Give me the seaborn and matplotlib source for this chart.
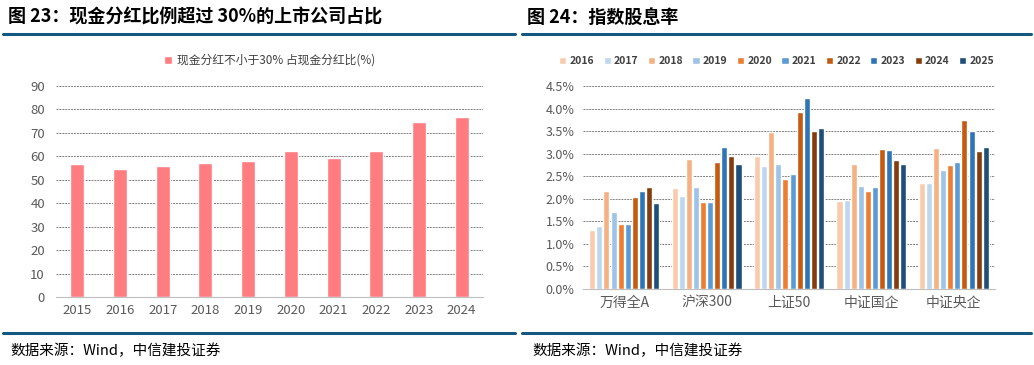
import matplotlib
matplotlib.use("Agg")
import matplotlib.pyplot as plt
from matplotlib.lines import Line2D
from matplotlib.ticker import FixedLocator, PercentFormatter
import pandas as pd
import seaborn as sns

sns.set_style("white")
plt.rcParams['font.family'] = ['Noto Sans CJK SC', 'DejaVu Sans']

# 图23 数据
years_left = ["2015", "2016", "2017", "2018", "2019", "2020", "2021", "2022", "2023", "2024"]
ratio_left = [56.7, 54.8, 55.8, 57.2, 58.0, 62.1, 59.3, 62.3, 74.7, 76.6]
legend_left = "现金分红不小于30% 占现金分红比(%)"

# 图24 数据 (股息率, %)
indices = ["万得全A", "沪深300", "上证50", "中证国企", "中证央企"]
years_right = ["2016", "2017", "2018", "2019", "2020", "2021", "2022", "2023", "2024", "2025"]
yield_wind_a = [1.31, 1.40, 2.18, 1.71, 1.43, 1.43, 2.04, 2.18, 2.25, 1.90]
yield_hs300 = [2.24, 2.07, 2.88, 2.25, 1.92, 1.92, 2.81, 3.14, 2.94, 2.76]
yield_sz50 = [2.94, 2.72, 3.48, 2.78, 2.43, 2.55, 3.93, 4.24, 3.51, 3.57]
yield_soe = [1.95, 1.97, 2.78, 2.28, 2.18, 2.26, 3.11, 3.08, 2.86, 2.77]
yield_cso = [2.36, 2.36, 3.13, 2.64, 2.75, 2.81, 3.74, 3.51, 3.07, 3.15]

year_colors = ["#F8CBAD", "#BDD7EE", "#F4B183", "#9DC3E6", "#ED7D31",
               "#5B9BD5", "#C55A11", "#2E75B6", "#843C0C", "#1F4E79"]

W, H = 1034, 365
fig = plt.figure(figsize=(W / 100, H / 100), dpi=100)


def px_box(x0, y_top, x1, y_bot):
    return [x0 / W, 1 - y_bot / H, (x1 - x0) / W, (y_bot - y_top) / H]


grid_kw = dict(color="#7f7f7f", linestyle=(0, (2, 1)), linewidth=0.7)
tick_color = "#595959"

# ---- 左图 ----
df_left = pd.DataFrame({"year": years_left, "ratio": ratio_left, "s": legend_left})
ax1 = fig.add_axes(px_box(56, 86, 483, 297))
sns.barplot(data=df_left, x="year", y="ratio", hue="s", palette=["#FF7C80"],
            width=0.33, ax=ax1, saturation=1)
ax1.set_ylim(0, 90)
ax1.set_yticks(range(0, 91, 10))
ax1.set_xlim(-0.5, len(years_left) - 0.5)
ax1.set_xlabel("")
ax1.set_ylabel("")
ax1.yaxis.grid(True, **grid_kw)
ax1.set_axisbelow(True)
for s in ["top", "right", "left"]:
    ax1.spines[s].set_visible(False)
ax1.spines["bottom"].set_color("#bfbfbf")
ax1.tick_params(axis="y", length=0, labelsize=9.5, colors=tick_color, pad=8)
ax1.tick_params(axis="x", which="major", length=0, labelsize=9.5, colors=tick_color, pad=5)
ax1.xaxis.set_minor_locator(FixedLocator([i - 0.5 for i in range(len(years_left) + 1)]))
ax1.tick_params(axis="x", which="minor", length=4, color="#bfbfbf")
ax1.legend(loc="lower center", bbox_to_anchor=(0.5, 1.04), frameon=False,
           fontsize=8.5, handlelength=0.7, handleheight=0.7, handletextpad=0.4,
           labelcolor="#404040")

# ---- 右图 ----
rows = []
for name, vals in zip(indices, [yield_wind_a, yield_hs300, yield_sz50, yield_soe, yield_cso]):
    for y, v in zip(years_right, vals):
        rows.append({"index": name, "year": y, "yield": v})
df_right = pd.DataFrame(rows)
ax2 = fig.add_axes(px_box(583, 86, 995, 289))
sns.barplot(data=df_right, x="index", y="yield", hue="year", hue_order=years_right,
            palette=year_colors, width=0.86, gap=0.15, saturation=1, ax=ax2)
ax2.set_ylim(0, 4.5)
ax2.set_yticks([i * 0.5 for i in range(10)])
ax2.yaxis.set_major_formatter(PercentFormatter(decimals=1))
ax2.set_xlim(-0.5, len(indices) - 0.5)
ax2.set_xlabel("")
ax2.set_ylabel("")
ax2.yaxis.grid(True, **grid_kw)
ax2.set_axisbelow(True)
for s in ["top", "right", "left"]:
    ax2.spines[s].set_visible(False)
ax2.spines["bottom"].set_color("#bfbfbf")
ax2.tick_params(axis="y", length=0, labelsize=9, colors=tick_color, pad=6)
ax2.tick_params(axis="x", which="major", length=0, labelsize=10, colors=tick_color, pad=5)
ax2.xaxis.set_minor_locator(FixedLocator([i - 0.5 for i in range(len(indices) + 1)]))
ax2.tick_params(axis="x", which="minor", length=4, color="#bfbfbf")
leg = ax2.legend(loc="lower center", bbox_to_anchor=(0.47, 1.05), frameon=False, ncol=10,
                 fontsize=7.5, handlelength=0.7, handleheight=0.7, handletextpad=0.3,
                 columnspacing=0.9, labelcolor="#404040")
for t in leg.get_texts():
    t.set_fontweight("bold")

# ---- 标题、分隔线、来源 ----
fig.text(8 / W, 1 - 17 / H, "图 23：现金分红比例超过 30%的上市公司占比", fontsize=13,
         fontweight="bold", va="center", ha="left", color="#000000")
fig.text(527 / W, 1 - 17 / H, "图 24：指数股息率", fontsize=13,
         fontweight="bold", va="center", ha="left", color="#000000")
line_color = "#14577F"
for x0, x1 in [(3, 515), (522, 1031)]:
    fig.add_artist(Line2D([x0 / W, x1 / W], [1 - 34 / H, 1 - 34 / H],
                          color=line_color, linewidth=2.2))
    fig.add_artist(Line2D([x0 / W, x1 / W], [1 - 333 / H, 1 - 333 / H],
                          color=line_color, linewidth=2.2))
fig.text(10 / W, 1 - 351 / H, "数据来源：Wind，中信建投证券", fontsize=10.5,
         style="italic", va="center", ha="left", color="#000000")
fig.text(532 / W, 1 - 351 / H, "数据来源：Wind，中信建投证券", fontsize=10.5,
         style="italic", va="center", ha="left", color="#000000")

fig.savefig("out.png", dpi=100)
